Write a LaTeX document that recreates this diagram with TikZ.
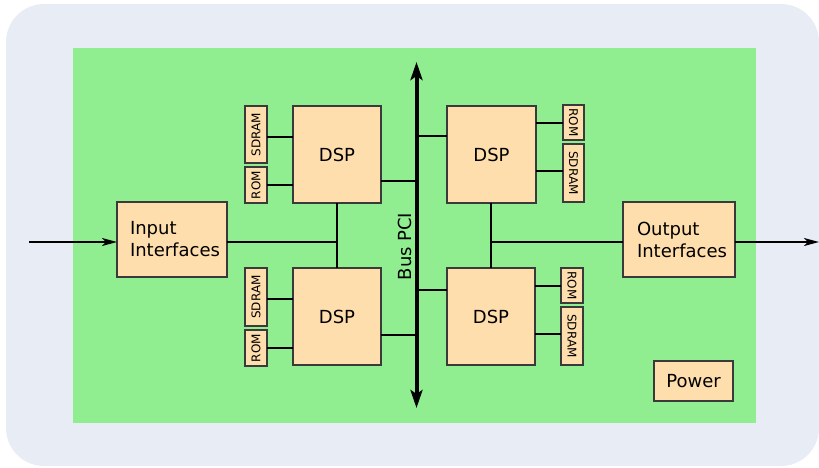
\documentclass[tikz,border=0pt]{standalone}
\usepackage{fontspec}
\setmainfont{DejaVu Sans}
\usepackage{graphicx}
\usetikzlibrary{arrows.meta}
\definecolor{bgout}{HTML}{E8EDF5}
\definecolor{board}{HTML}{90EE90}
\definecolor{chip}{HTML}{FFDEAD}
\definecolor{chipedge}{HTML}{3A3A3A}
\tikzset{
  blk/.style={draw=chipedge, fill=chip, line width=1.3pt, inner sep=0pt, outer sep=0pt, anchor=north west},
  bigtxt/.style={font=\fontsize{18}{22}\selectfont},
  smalltxt/.style={font=\fontsize{12}{13}\selectfont},
  wire/.style={line width=1.8pt, black},
  sig/.style={line width=1.5pt, -{Stealth[length=15pt,width=8pt,inset=4pt]}},
  busline/.style={line width=4pt, {Stealth[length=18pt,width=12pt,inset=4pt]}-{Stealth[length=18pt,width=12pt,inset=4pt]}}
}
\begin{document}
\begin{tikzpicture}[x=1pt,y=-1pt]
\useasboundingbox (0,0) rectangle (819,467);
\fill[bgout, rounded corners=38pt] (6,4) rectangle (819,466);
\fill[board] (73,48) rectangle (756,423);

% DSP blocks
\node[blk, bigtxt, minimum width=88pt, minimum height=97pt] (dsp1) at (293,106) {DSP};
\node[blk, bigtxt, minimum width=88pt, minimum height=97pt] (dsp3) at (293,268) {DSP};
\node[blk, bigtxt, minimum width=89pt, minimum height=97pt] (dsp2) at (447,106) {DSP};
\node[blk, bigtxt, minimum width=88pt, minimum height=97pt] (dsp4) at (447,268) {DSP};

% memories left
\node[blk, smalltxt, minimum width=22pt, minimum height=57pt] (sd1) at (245,106) {\rotatebox{90}{SDRAM}};
\node[blk, smalltxt, minimum width=22pt, minimum height=36pt] (rom1) at (245,167) {\rotatebox{90}{ROM}};
\node[blk, smalltxt, minimum width=22pt, minimum height=58pt] (sd3) at (245,268) {\rotatebox{90}{SDRAM}};
\node[blk, smalltxt, minimum width=22pt, minimum height=36pt] (rom3) at (245,330) {\rotatebox{90}{ROM}};
% memories right
\node[blk, smalltxt, minimum width=21pt, minimum height=35pt] (rom2) at (563,105) {\rotatebox{-90}{ROM}};
\node[blk, smalltxt, minimum width=21pt, minimum height=58pt] (sd2) at (563,144) {\rotatebox{-90}{SDRAM}};
\node[blk, smalltxt, minimum width=22pt, minimum height=35pt] (rom4) at (561,268) {\rotatebox{-90}{ROM}};
\node[blk, smalltxt, minimum width=22pt, minimum height=58pt] (sd4) at (561,307) {\rotatebox{-90}{SDRAM}};

% interfaces
\node[blk, bigtxt, text width=84pt, inner xsep=13pt, align=left, minimum height=75pt] (in) at (117,202) {Input\\Interfaces};
\node[blk, bigtxt, text width=84pt, inner xsep=14pt, align=left, minimum height=75pt] (out) at (623,202) {Output\\Interfaces};
\node[blk, bigtxt, minimum width=79pt, minimum height=40pt] (pwr) at (654,361) {Power};

% bus
\coordinate (bustop) at (416.5,62);
\coordinate (busbot) at (416.5,408);
\draw[busline] (busbot) -- (bustop);
\node[bigtxt, rotate=90, inner sep=0pt] (buslbl) at (405,246.5) {Bus PCI};

% memory wires
\draw[wire] (sd1.east |- 0,137) -- (dsp1.west |- 0,137);
\draw[wire] (rom1.east |- 0,185) -- (dsp1.west |- 0,185);
\draw[wire] (sd3.east |- 0,299) -- (dsp3.west |- 0,299);
\draw[wire] (rom3.east |- 0,348) -- (dsp3.west |- 0,348);
\draw[wire] (dsp2.east |- 0,123) -- (rom2.west |- 0,123);
\draw[wire] (dsp2.east |- 0,171) -- (sd2.west |- 0,171);
\draw[wire] (dsp4.east |- 0,286) -- (rom4.west |- 0,286);
\draw[wire] (dsp4.east |- 0,334) -- (sd4.west |- 0,334);

% bus wires
\draw[wire] (dsp1.east |- 0,181) -- (bustop |- 0,181);
\draw[wire] (dsp3.east |- 0,335) -- (bustop |- 0,335);
\draw[wire] (bustop |- 0,136) -- (dsp2.west |- 0,136);
\draw[wire] (bustop |- 0,290) -- (dsp4.west |- 0,290);

% junctions
\coordinate (jl) at (337,242);
\coordinate (jr) at (491,242);
\draw[wire] (dsp1.south -| jl) -- (dsp3.north -| jl);
\draw[wire] (dsp2.south -| jr) -- (dsp4.north -| jr);
\draw[wire] (in.east |- jl) -- (jl);
\draw[wire] (jr) -- (out.west |- jr);

% signals
\coordinate (srcin) at (29,242);
\coordinate (dstout) at (819,242);
\draw[sig] (srcin) -- (in.west |- srcin);
\draw[sig] (out.east |- dstout) -- (dstout);
\end{tikzpicture}
\end{document}
